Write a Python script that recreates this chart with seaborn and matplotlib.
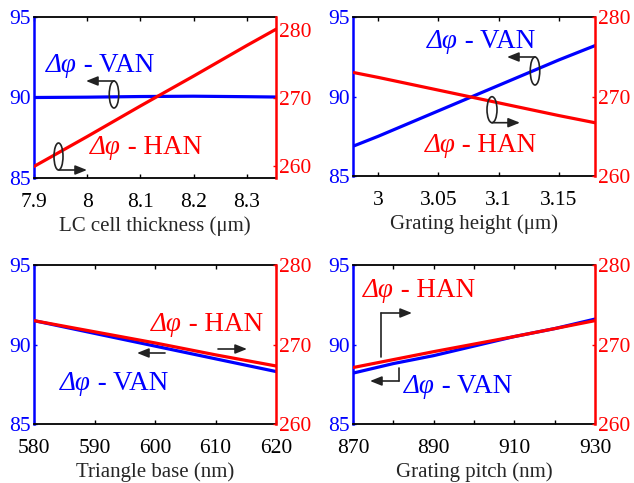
import matplotlib
matplotlib.use("Agg")
import matplotlib.pyplot as plt
import seaborn as sns
import numpy as np
import pandas as pd
from matplotlib.patches import Ellipse, FancyArrowPatch
from matplotlib.lines import Line2D
from matplotlib.transforms import Affine2D
from matplotlib.text import Annotation

# ---------------- data ----------------
thick_x = [7.9, 8.0, 8.1, 8.2, 8.3, 8.355]
thick_van = [90.0, 90.02, 90.06, 90.08, 90.05, 90.03]
thick_han = [259.9, 264.3, 268.8, 273.2, 277.7, 280.1]
thick_ticks = [7.9, 8.0, 8.1, 8.2, 8.3]
thick_labels = ["7.9", "8", "8.1", "8.2", "8.3"]

height_x = [2.98, 3.0, 3.05, 3.1, 3.15, 3.18]
height_van = [86.9, 87.5, 89.1, 90.7, 92.3, 93.2]
height_han = [273.0, 272.4, 270.8, 269.2, 267.6, 266.7]
height_ticks = [3.0, 3.05, 3.1, 3.15]
height_labels = ["3", "3.05", "3.1", "3.15"]

base_x = [580, 590, 600, 610, 620]
base_van = [91.5, 90.7, 89.9, 89.1, 88.3]
base_han = [273.0, 271.6, 270.2, 268.7, 267.3]
base_ticks = [580, 590, 600, 610, 620]
base_labels = ["580", "590", "600", "610", "620"]

pitch_x = [870, 880, 890, 900, 910, 920, 930]
pitch_van = [88.2, 88.8, 89.3, 89.9, 90.5, 91.0, 91.6]
pitch_han = [267.1, 268.1, 269.1, 270.05, 271.0, 272.0, 273.0]
pitch_ticks = [870, 880, 890, 900, 910, 920, 930]
pitch_labels = ["870", "", "890", "", "910", "", "930"]

xlabels = ["LC cell thickness (\u03bcm)", "Grating height (\u03bcm)",
           "Triangle base (nm)", "Grating pitch (nm)"]
left_ticks = [85, 90, 95]
right_ticks = [260, 270, 280]

# ---------------- style ----------------
sns.set_style("ticks")
plt.rcParams["font.family"] = ["Liberation Serif", "DejaVu Serif"]
W, H = 634, 483
DPI = 100
fig = plt.figure(figsize=(W / DPI, H / DPI), dpi=DPI)
fig.patch.set_facecolor("white")
pix = Affine2D().scale(1 / DPI, -1 / DPI).translate(0, H / DPI) + fig.dpi_scale_trans

BLUE = "#0000FF"
RED = "#FF0000"
ARW = "#222222"
TFS = 15.5
LFS = 15
AFS = 19.5

panels = [
    dict(box=(34, 17, 276, 178), x=thick_x, van=thick_van, han=thick_han,
         xlim=(7.9, 8.355), rlim=(258.2, 281.9), ticks=thick_ticks, labels=thick_labels),
    dict(box=(353, 17, 595, 176), x=height_x, van=height_van, han=height_han,
         xlim=(2.979, 3.18), rlim=(260, 280), ticks=height_ticks, labels=height_labels),
    dict(box=(34, 265, 276, 424), x=base_x, van=base_van, han=base_han,
         xlim=(580, 620), rlim=(260, 280), ticks=base_ticks, labels=base_labels),
    dict(box=(353, 265, 595, 424), x=pitch_x, van=pitch_van, han=pitch_han,
         xlim=(870, 930), rlim=(260, 280), ticks=pitch_ticks, labels=pitch_labels),
]

for p, xl in zip(panels, xlabels):
    l, t, r, b = p["box"]
    ax = fig.add_axes([l / W, 1 - b / H, (r - l) / W, (b - t) / H])
    ax2 = ax.twinx()
    sns.lineplot(x=p["x"], y=p["van"], ax=ax, color=BLUE, lw=2.3, legend=False)
    sns.lineplot(x=p["x"], y=p["han"], ax=ax2, color=RED, lw=2.3, legend=False)
    ax.set_xlim(*p["xlim"])
    ax.set_ylim(85, 95)
    ax2.set_ylim(*p["rlim"])
    ax.set_xticks(p["ticks"])
    ax.set_xticklabels(p["labels"])
    ax.set_yticks(left_ticks)
    ax2.set_yticks(right_ticks)
    ax.set_ylabel("")
    ax2.set_ylabel("")
    ax.set_xlabel(xl, fontsize=LFS, labelpad=3)
    for s in ["top", "bottom"]:
        ax.spines[s].set_color("black")
        ax.spines[s].set_linewidth(1.3)
        ax2.spines[s].set_visible(False)
    ax.spines["left"].set_color(BLUE)
    ax.spines["left"].set_linewidth(1.8)
    ax.spines["right"].set_visible(False)
    ax2.spines["left"].set_visible(False)
    ax2.spines["right"].set_color(RED)
    ax2.spines["right"].set_linewidth(1.8)
    ax.tick_params(axis="x", direction="in", top=True, bottom=True, length=3,
                   width=1, colors="black", labelsize=TFS, pad=11)
    ax.tick_params(axis="y", direction="in", left=True, length=2, width=1,
                   colors=BLUE, labelsize=TFS, pad=2.5)
    ax2.tick_params(axis="y", direction="in", right=True, length=2, width=1,
                    colors=RED, labelsize=TFS, pad=2.5)
    ax.grid(False)
    ax2.grid(False)


def dlabel(x, y, tail, color):
    t1 = fig.text(x, y, "\u0394\u03c6", transform=pix, style="italic", color=color,
                  fontsize=AFS, ha="left", va="baseline")
    a = Annotation(tail, xy=(1, 0), xycoords=t1, ha="left", va="bottom",
                   color=color, fontsize=AFS)
    fig.add_artist(a)


def arrow(points):
    pts = list(points)
    if len(pts) > 2:
        xs = [q[0] for q in pts[:-1]]
        ys = [q[1] for q in pts[:-1]]
        fig.add_artist(Line2D(xs, ys, transform=pix, color=ARW, lw=1.2))
    fa = FancyArrowPatch(pts[-2], pts[-1], transform=pix, arrowstyle="-|>,head_length=5,head_width=2",
                         color=ARW, lw=1.2, mutation_scale=1.4, shrinkA=0, shrinkB=0)
    fig.add_artist(fa)


def ellipse(cx, cy, w, h):
    fig.add_artist(Ellipse((cx, cy), w, h, transform=pix, fill=False, ec=ARW, lw=1.2))


# panel 1
dlabel(46, 71.7, " - VAN", BLUE)
dlabel(90, 154.3, " - HAN", RED)
ellipse(114, 94.5, 9.5, 27)
arrow([(114, 81), (86, 81)])
ellipse(58.5, 156.5, 9, 27)
arrow([(59, 170), (87, 170)])

# panel 2
dlabel(427, 48.3, " - VAN", BLUE)
dlabel(424.5, 151.7, " - HAN", RED)
ellipse(535, 71, 9.5, 28)
arrow([(535, 57), (507, 57)])
ellipse(492, 109.7, 10, 26)
arrow([(492, 122.7), (520, 122.7)])

# panel 3
dlabel(151, 330.7, " - HAN", RED)
dlabel(60, 390, " - VAN", BLUE)
arrow([(165, 353), (137, 353)])
arrow([(218, 349), (247, 349)])

# panel 4
dlabel(363, 297.3, " - HAN", RED)
dlabel(404, 393.3, " - VAN", BLUE)
arrow([(381, 357), (381, 313), (412, 313)])
arrow([(399, 368), (399, 381), (370, 381)])

fig.savefig("out.png", dpi=DPI, facecolor="white")
